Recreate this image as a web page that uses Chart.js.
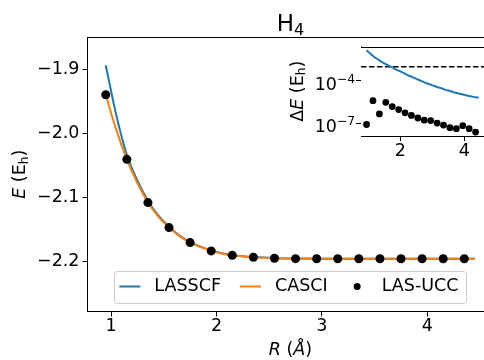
<!DOCTYPE html>
<html>
<head>
<meta charset="utf-8">
<script src="https://cdn.jsdelivr.net/npm/chart.js@4.4.0/dist/chart.umd.min.js"></script>
<style>
  html, body { margin: 0; padding: 0; background: #fff; }
  #wrap { position: relative; width: 484px; height: 360px; overflow: hidden; }
  #mainChart { position: absolute; left: 0; top: 0; }
  #insetChart { position: absolute; left: 270px; top: 30px; }
</style>
</head>
<body>
<div id="wrap">
  <canvas id="mainChart" width="500" height="360"></canvas>
  <canvas id="insetChart" width="230" height="140"></canvas>
</div>
<script>
// === Data ===
const lineR = [0.95, 1.05, 1.15, 1.25, 1.35, 1.45, 1.55, 1.65, 1.75, 1.85, 1.95, 2.05,
  2.15, 2.25, 2.35, 2.45, 2.55, 2.65, 2.75, 2.85, 2.95, 3.05, 3.15, 3.25,
  3.35, 3.45, 3.55, 3.65, 3.75, 3.85, 3.95, 4.05, 4.15, 4.25, 4.35, 4.45];
const lasscfE = [-1.894, -1.972, -2.034, -2.074, -2.1055, -2.129, -2.1462, -2.160, -2.1702, -2.1774, -2.1835, -2.1876,
  -2.1906, -2.1923, -2.1936, -2.1945, -2.1952, -2.1957, -2.1959, -2.1960, -2.1961, -2.1961, -2.1961, -2.1962,
  -2.1962, -2.1962, -2.1962, -2.1962, -2.1962, -2.1962, -2.1962, -2.1962, -2.1962, -2.1962, -2.1962, -2.1962];
const casciE = [-1.940, -1.995, -2.041, -2.078, -2.1085, -2.131, -2.1476, -2.161, -2.171, -2.178, -2.184, -2.188,
  -2.191, -2.1925, -2.194, -2.1948, -2.1955, -2.196, -2.1961, -2.1961, -2.1962, -2.1962, -2.1962, -2.1962,
  -2.1962, -2.1962, -2.1962, -2.1962, -2.1962, -2.1962, -2.1962, -2.1962, -2.1962, -2.1962, -2.1962, -2.1962];
const uccR = [0.95, 1.15, 1.35, 1.55, 1.75, 1.95, 2.15, 2.35, 2.55, 2.75, 2.95, 3.15, 3.35, 3.55, 3.75, 3.95, 4.15, 4.35];
const uccE = [-1.940, -2.041, -2.1085, -2.1476, -2.171, -2.184, -2.191, -2.194, -2.1955, -2.1961, -2.1962, -2.1962,
  -2.1962, -2.1962, -2.1962, -2.1962, -2.1962, -2.1962];

// inset: energy errors (Eh)
const lasscfDE = [1.51e-2, 9.5e-3, 6.0e-3, 4.1e-3, 2.9e-3, 2.1e-3, 1.55e-3, 1.17e-3, 9.1e-4, 6.9e-4, 5.4e-4, 4.2e-4,
  3.2e-4, 2.5e-4, 2.0e-4, 1.6e-4, 1.26e-4, 1.0e-4, 7.9e-5, 6.5e-5, 5.4e-5, 4.5e-5, 3.7e-5, 3.2e-5,
  2.6e-5, 2.2e-5, 1.9e-5, 1.6e-5, 1.4e-5, 1.23e-5, 1.07e-5, 9.5e-6, 8.5e-6, 7.6e-6, 6.9e-6, 6.3e-6];
const uccDE = [7.9e-8, 3.9e-6, 4.5e-7, 3.0e-6, 1.5e-6, 9.1e-7, 5.4e-7, 3.5e-7, 2.3e-7, 1.6e-7, 1.5e-7, 1.0e-7,
  7.2e-8, 4.7e-8, 4.0e-8, 6.5e-8, 4.0e-8, 2.3e-8];
const dEThreshold = 1e-3;

const mainXTicks = [1, 2, 3, 4];
const mainYTicks = [-2.2, -2.1, -2.0, -1.9];
const insetXTicks = [2, 4];
const insetYTicks = [1e-7, 1e-4];
const insetYTickExp = ['\u22127', '\u22124'];

const FONT = 'DejaVu Sans';
const FS = 17.5;
const xLim = [0.7769, 4.625];

const pts = (xs, ys) => xs.map((x, i) => ({ x, y: ys[i] }));

// draw a run of text pieces (italic / subscript / superscript) centred on x
function drawRuns(ctx, runs, x, y, size, rotate, align) {
  ctx.save();
  ctx.translate(x, y);
  if (rotate) ctx.rotate(-Math.PI / 2);
  ctx.fillStyle = '#000';
  ctx.textBaseline = 'alphabetic';
  ctx.textAlign = 'left';
  const small = r => r.sub || r.sup;
  const fontOf = r => `${r.italic ? 'italic ' : ''}${small(r) ? size * 0.7 : size}px "${FONT}"`;
  let total = 0;
  runs.forEach(r => { ctx.font = fontOf(r); r.w = ctx.measureText(r.t).width; total += r.w; });
  let cx = align === 'right' ? -total : -total / 2;
  runs.forEach(r => {
    ctx.font = fontOf(r);
    const dy = r.sub ? size * 0.17 : r.sup ? -size * 0.38 : 0;
    ctx.fillText(r.t, cx, dy);
    cx += r.w;
  });
  ctx.restore();
}

function tickFont() { return { family: FONT, size: FS }; }
const minus = s => s.replace('-', '\u2212');

// === Main chart extras: spines, titles, legend ===
const mainExtras = {
  id: 'mainExtras',
  afterDraw(chart) {
    const { ctx, chartArea: a } = chart;
    ctx.save();
    ctx.strokeStyle = '#000';
    ctx.lineWidth = 1;
    ctx.beginPath();
    ctx.moveTo(a.left, Math.round(a.top) + 0.5);
    ctx.lineTo(a.right, Math.round(a.top) + 0.5);
    ctx.moveTo(Math.round(a.right) + 0.5, a.top);
    ctx.lineTo(Math.round(a.right) + 0.5, a.bottom);
    ctx.stroke();
    ctx.restore();

    const cx = (a.left + a.right) / 2;
    drawRuns(ctx, [{ t: 'H' }, { t: '4', sub: true }], cx, 30.7, 23, false);
    drawRuns(ctx, [{ t: 'R', italic: true }, { t: ' (' }, { t: '\u00C5', italic: true }, { t: ')' }], cx, 355, FS, false);
    drawRuns(ctx, [{ t: 'E', italic: true }, { t: ' (E' }, { t: 'h', sub: true }, { t: ')' }], 25, (a.top + a.bottom) / 2, FS, true);

    // legend, lower centre inside the axes
    const items = chart.data.datasets;
    const handleLen = 21, textPad = 14, colGap = 19, padL = 5, padR = 8, boxH = 31.6;
    ctx.save();
    ctx.font = `${FS}px "${FONT}"`;
    const widths = items.map(d => ctx.measureText(d.label).width);
    const boxW = padL + padR + widths.reduce((s, w) => s + w + handleLen + textPad, 0) + colGap * (items.length - 1);
    const bx = cx - boxW / 2;
    const by = a.bottom - 9.2 - boxH;
    ctx.beginPath();
    ctx.roundRect(Math.round(bx) + 0.5, Math.round(by) + 0.5, Math.round(boxW), Math.round(boxH), 3);
    ctx.fillStyle = 'rgba(255,255,255,0.8)';
    ctx.fill();
    ctx.strokeStyle = '#cccccc';
    ctx.lineWidth = 1;
    ctx.stroke();
    const my = by + boxH / 2;
    let x = bx + padL;
    items.forEach((d, i) => {
      if (d.showLine) {
        ctx.strokeStyle = d.borderColor;
        ctx.lineWidth = 2;
        ctx.beginPath();
        ctx.moveTo(x, my);
        ctx.lineTo(x + handleLen, my);
        ctx.stroke();
      } else {
        ctx.fillStyle = d.backgroundColor;
        ctx.beginPath();
        ctx.arc(x + handleLen / 2, my, 3.5, 0, Math.PI * 2);
        ctx.fill();
      }
      ctx.fillStyle = '#000';
      ctx.textBaseline = 'middle';
      ctx.textAlign = 'left';
      ctx.fillText(d.label, x + handleLen + textPad, my);
      x += handleLen + textPad + widths[i] + colGap;
    });
    ctx.restore();
  }
};

new Chart(document.getElementById('mainChart'), {
  type: 'scatter',
  data: {
    datasets: [
      { label: 'LASSCF', data: pts(lineR, lasscfE), showLine: true, borderColor: '#1f77b4', borderWidth: 2,
        pointRadius: 0, cubicInterpolationMode: 'monotone', order: 2 },
      { label: 'CASCI', data: pts(lineR, casciE), showLine: true, borderColor: '#ff7f0e', borderWidth: 2,
        pointRadius: 0, cubicInterpolationMode: 'monotone', order: 1 },
      { label: 'LAS-UCC', data: pts(uccR, uccE), showLine: false, backgroundColor: '#000', borderColor: '#000',
        pointRadius: 4.5, borderWidth: 0, order: 0 }
    ]
  },
  options: {
    responsive: false,
    animation: false,
    devicePixelRatio: 1,
    layout: { padding: { top: 37, right: 6.7, left: 0, bottom: 0 } },
    plugins: { legend: { display: false }, tooltip: { enabled: false } },
    scales: {
      x: {
        type: 'linear', min: xLim[0], max: xLim[1],
        afterBuildTicks: s => { s.ticks = mainXTicks.map(v => ({ value: v })); },
        afterFit: s => { s.height = 48.5; },
        ticks: { font: tickFont(), color: '#000', padding: -1, maxRotation: 0, callback: v => String(v) },
        grid: { drawOnChartArea: false, drawTicks: true, tickLength: 5, color: '#000' },
        border: { display: true, color: '#000', width: 1 }
      },
      y: {
        type: 'linear', min: -2.2787, max: -1.8498,
        afterBuildTicks: s => { s.ticks = mainYTicks.map(v => ({ value: v })); },
        afterFit: s => { s.width = 87.5; },
        ticks: { font: tickFont(), color: '#000', padding: 3, callback: v => minus(v.toFixed(1)) },
        grid: { drawOnChartArea: false, drawTicks: true, tickLength: 5, color: '#000' },
        border: { display: true, color: '#000', width: 1 }
      }
    }
  },
  plugins: [mainExtras]
});

// === Inset chart ===
const insetExtras = {
  id: 'insetExtras',
  beforeDatasetsDraw(chart) {
    const { ctx, chartArea: a } = chart;
    ctx.save();
    ctx.fillStyle = '#fff';
    ctx.fillRect(a.left, a.top, a.right - a.left, a.bottom - a.top);
    ctx.restore();
  },
  afterDraw(chart) {
    const { ctx, chartArea: a } = chart;
    ctx.save();
    ctx.strokeStyle = '#000';
    ctx.lineWidth = 1;
    ctx.beginPath();
    ctx.moveTo(a.left, Math.round(a.top) + 0.5);
    ctx.lineTo(a.right, Math.round(a.top) + 0.5);
    ctx.moveTo(Math.round(a.right) + 0.5, a.top);
    ctx.lineTo(Math.round(a.right) + 0.5, a.bottom);
    ctx.stroke();
    ctx.restore();
    // log tick labels as 10 with a raised exponent
    const ys = chart.scales.y;
    insetYTicks.forEach((v, i) => {
      const py = ys.getPixelForValue(v);
      drawRuns(ctx, [{ t: '10' }, { t: insetYTickExp[i], sup: true }], a.left - 6, py + 9, FS, false, 'right');
    });
    drawRuns(ctx, [{ t: '\u0394' }, { t: 'E', italic: true }, { t: ' (E' }, { t: 'h', sub: true }, { t: ')' }],
      32.5, (a.top + a.bottom) / 2, FS, true);
  }
};

new Chart(document.getElementById('insetChart'), {
  type: 'scatter',
  data: {
    datasets: [
      { label: 'threshold', data: pts(xLim, [dEThreshold, dEThreshold]), showLine: true, borderColor: '#000',
        borderWidth: 1.5, borderDash: [5.5, 2.5], pointRadius: 0, order: 2 },
      { label: 'LASSCF', data: pts(lineR, lasscfDE), showLine: true, borderColor: '#1f77b4', borderWidth: 2,
        pointRadius: 0, cubicInterpolationMode: 'monotone', order: 1 },
      { label: 'LAS-UCC', data: pts(uccR, uccDE), showLine: false, backgroundColor: '#000',
        pointRadius: 3.4, borderWidth: 0, order: 0 }
    ]
  },
  options: {
    responsive: false,
    animation: false,
    devicePixelRatio: 1,
    layout: { padding: { top: 16.5, right: 15.6, left: 0, bottom: 0 } },
    plugins: { legend: { display: false }, tooltip: { enabled: false } },
    scales: {
      x: {
        type: 'linear', min: xLim[0], max: xLim[1],
        afterBuildTicks: s => { s.ticks = insetXTicks.map(v => ({ value: v })); },
        afterFit: s => { s.height = 34; },
        ticks: { font: tickFont(), color: '#000', padding: 0, maxRotation: 0, callback: v => String(v) },
        grid: { drawOnChartArea: false, drawTicks: true, tickLength: 5, color: '#000' },
        border: { display: true, color: '#000', width: 1 }
      },
      y: {
        type: 'logarithmic', min: 1.2e-8, max: 2.82e-2,
        afterBuildTicks: s => { s.ticks = insetYTicks.map(v => ({ value: v })); },
        afterFit: s => { s.width = 91; },
        ticks: { font: tickFont(), color: '#000', padding: 2, callback: () => '' },
        grid: { drawOnChartArea: false, drawTicks: true, tickLength: 5, color: '#000' },
        border: { display: true, color: '#000', width: 1 }
      }
    }
  },
  plugins: [insetExtras]
});
</script>
</body>
</html>
